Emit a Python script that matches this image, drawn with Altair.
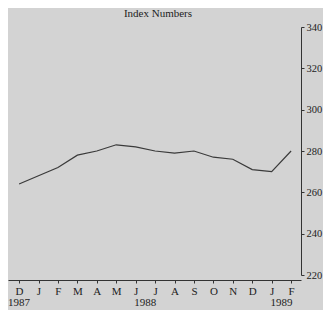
import altair as alt
import pandas as pd

months = ["D", "J", "F", "M", "A", "M", "J", "J", "A", "S", "O", "N", "D", "J", "F"]
values = [264, 268, 272, 278, 280, 283, 282, 280, 279, 280, 277, 276, 271, 270, 280]
years = ["1987", "1988", "1989"]
year_pos = [0, 6.5, 13.5]
y_ticks = [220, 240, 260, 280, 300, 320, 340]
title_text = "Index Numbers"

df = pd.DataFrame({"i": list(range(len(months))), "m": months, "v": values})
ydf = pd.DataFrame({"i": year_pos, "yr": years})

FONT = "Liberation Serif"
label_expr = "[" + ",".join(f"'{m}'" for m in months) + "][datum.value]"

xscale = alt.Scale(domain=[-0.57, 14.51], nice=False, zero=False)
yscale = alt.Scale(domain=[220, 340], nice=False, zero=False)

xaxis = alt.Axis(title=None, values=list(range(len(months))), tickCount=len(months),
                 labelExpr=label_expr, offset=5, tickSize=3, labelPadding=2, grid=False,
                 labelOverlap=False, domainColor="#333", tickColor="#333",
                 labelColor="#222", labelFont=FONT, labelFontSize=11, labelFlush=False)

line = alt.Chart(df).mark_line(color="#3a3a3a", strokeWidth=1.2).encode(
    x=alt.X("i:Q", scale=xscale, axis=xaxis),
    y=alt.Y("v:Q", scale=yscale,
            axis=alt.Axis(title=None, orient="right", values=y_ticks, tickSize=3,
                          labelPadding=2, grid=False, domainColor="#333", tickColor="#333",
                          labelOverlap=False,
                          labelColor="#222", labelFont=FONT, labelFontSize=10.5,
                          labelFlush=False)),
)

yr = alt.Chart(ydf).mark_text(font=FONT, fontSize=11, color="#222", baseline="middle").encode(
    x=alt.X("i:Q", scale=xscale, axis=xaxis),
    text="yr:N",
    y=alt.value(276),
)

ttl = alt.Chart(pd.DataFrame({"t": [title_text]})).mark_text(
    font=FONT, fontSize=11, color="#222", baseline="middle"
).encode(x=alt.value(150), y=alt.value(-13), text="t:N")

chart = alt.layer(line, yr, ttl).properties(
    width=293, height=248,
    background="#d3d3d3",
    autosize=alt.AutoSizeParams(type="none"),
    padding={"left": 0, "top": 19, "right": 22, "bottom": 35},
).configure_view(stroke=None)

chart.save("out.html", embed_options={"renderer": "svg", "actions": False})
